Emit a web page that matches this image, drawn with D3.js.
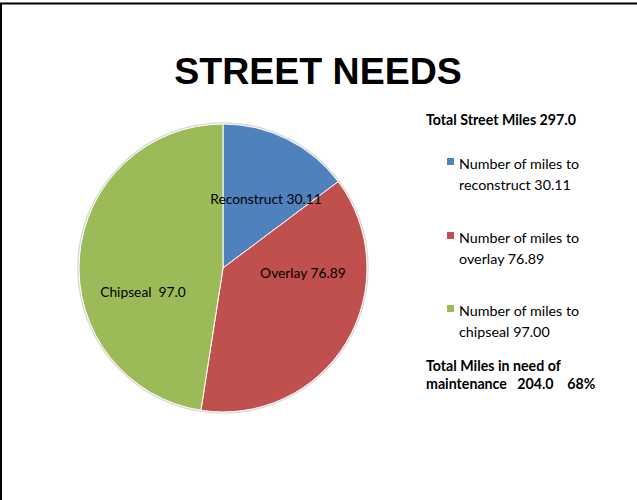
<!DOCTYPE html>
<html><head><meta charset="utf-8">
<script src="https://cdn.jsdelivr.net/npm/d3@7"></script>
<style>body{margin:0;background:#fff}svg{display:block}text{white-space:pre}</style>
</head><body>
<script>
const categories = ["Reconstruct", "Overlay", "Chipseal"];
const values = [30.11, 76.89, 97.0];
const sliceLabels = ["Reconstruct 30.11", "Overlay 76.89", "Chipseal  97.0"];
const legendLines = [["Number of miles to", "reconstruct 30.11"], ["Number of miles to", "overlay 76.89"], ["Number of miles to", "chipseal 97.00"]];
const colors = ["#4F81BD", "#C0504D", "#9BBB59"];
const titleText = "STREET NEEDS";
const totalText = "Total Street Miles 297.0";
const footerLines = ["Total Miles in need of", "maintenance   204.0    68%"];

const W = 637, H = 500;
const svg = d3.select("body").append("svg").attr("width", W).attr("height", H);
svg.append("rect").attr("width", W).attr("height", H).attr("fill", "#fff");
svg.append("line").attr("x1", 0).attr("x2", W).attr("y1", 3.5).attr("y2", 3.5).attr("stroke", "#000").attr("stroke-width", 2);
svg.append("line").attr("x1", 1).attr("x2", 1).attr("y1", 3).attr("y2", H).attr("stroke", "#000").attr("stroke-width", 2);

svg.append("text").attr("x", 318).attr("y", 84).attr("text-anchor", "middle")
  .attr("font-family", "Liberation Sans, Arial, sans-serif").attr("font-weight", "bold")
  .attr("font-size", 37.5).attr("fill", "#000").text(titleText);

const cx = 223, cy = 268, r = 144;
const pie = d3.pie().sort(null).value(d => d);
const arcs = pie(values);
const arc = d3.arc().innerRadius(0).outerRadius(r);
const g = svg.append("g").attr("transform", `translate(${cx},${cy})`);
g.append("circle").attr("r", r + 1).attr("fill", "none").attr("stroke", "#d8d8d8").attr("stroke-width", 1.5);
g.selectAll("path").data(arcs).join("path").attr("d", arc)
  .attr("fill", (d, i) => colors[i]).attr("stroke", "#fff").attr("stroke-width", 1);

const ff = "Lato, Carlito, Calibri, sans-serif";
const labelPos = [[43, -68], [80, 6], [-80, 25]];
g.selectAll("text.lbl").data(arcs).join("text").attr("class", "lbl")
  .attr("x", (d, i) => labelPos[i][0]).attr("y", (d, i) => labelPos[i][1])
  .attr("text-anchor", "middle").attr("dominant-baseline", "middle")
  .attr("font-family", ff).attr("font-size", 13.8).attr("fill", "#000")
  .text((d, i) => sliceLabels[i]);

svg.append("text").attr("x", 426).attr("y", 125).attr("font-family", ff).attr("font-weight", "bold")
  .attr("font-size", 14.2).attr("fill", "#000").text(totalText);

const legY = [169, 243, 316];
categories.forEach((c, i) => {
  svg.append("rect").attr("x", 447).attr("y", legY[i] - 11).attr("width", 7).attr("height", 7).attr("fill", colors[i]);
  legendLines[i].forEach((t, j) => {
    svg.append("text").attr("x", 459).attr("y", legY[i] + j * 21).attr("font-family", ff)
      .attr("font-size", 14.3).attr("fill", "#000").text(t);
  });
});
footerLines.forEach((t, j) => {
  svg.append("text").attr("x", 426).attr("y", 371 + j * 18).attr("font-family", ff).attr("font-weight", "bold")
    .attr("font-size", 14.2).attr("fill", "#000").text(t);
});
</script>
</body></html>
